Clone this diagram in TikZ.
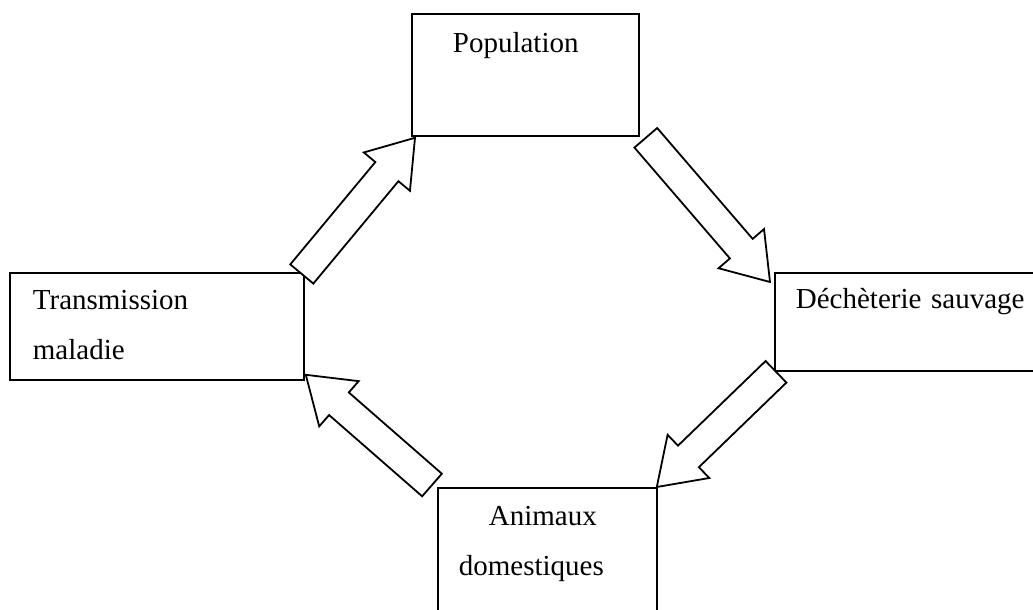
\documentclass[tikz,border=0pt]{standalone}
\usepackage{fontspec}
\setmainfont{Liberation Serif}
\usetikzlibrary{calc}

% hollow block arrow drawn from one anchor to another
\newcommand{\flecheBloc}[2]{%
  \path[fleche] let \p1=(#1), \p2=(#2),
    \n1={atan2(\y2-\y1,\x2-\x1)}, \n2={veclen(\x2-\x1,\y2-\y1)} in
    [shift={(\p1)}, rotate=\n1]
    (0,-15) -- (\n2-44,-15) -- (\n2-44,-30) -- (\n2,0)
    -- (\n2-44,30) -- (\n2-44,15) -- (0,15) -- cycle;
}

\begin{document}
\begin{tikzpicture}[
  x=1pt, y=-1pt,
  font=\fontsize{29}{50}\selectfont,
  bloc/.style={draw, line width=1.8pt, rectangle, anchor=north west, inner ysep=0pt, align=left},
  fleche/.style={draw, fill=white, line width=1.8pt, line join=miter}
]
% page frame (picture is cut at the right and bottom edges)
\useasboundingbox (0,0) rectangle (1033,610);
\clip (0,0) rectangle (1033,610);

% Column / row positions of the boxes (top left corners)
\def\xTrans{9}
\def\xPop{411}
\def\xAnim{437}
\def\xDech{774}

% Population (top)
\node[bloc, inner xsep=41pt, text width=145pt, text height=39pt, text depth=83pt] (pop) at (\xPop,13) {Population};

% Dechetterie sauvage (right)
\node[bloc, inner xsep=21pt, text width=244pt, text height=36pt, text depth=62pt] (dech) at (\xDech,272) {Déchèterie sauvage};

% Animaux domestiques (bottom)
\node[bloc, inner xsep=21pt, text width=177pt, text height=38pt, text depth=160pt] (anim) at (\xAnim,487) {\hspace*{30pt}Animaux\\domestiques};

% Transmission maladie (left)
\node[bloc, inner xsep=23pt, text width=248pt, text height=37pt, text depth=70pt] (trans) at (\xTrans,272) {Transmission\\maladie};

% the cycle
\flecheBloc{[shift={(-3,2)}]trans.north east}{[shift={(4,1)}]pop.south west}
\flecheBloc{[shift={(6,1)}]pop.south east}{[shift={(-4,10)}]dech.north west}
\flecheBloc{[shift={(2,0)}]dech.south west}{[shift={(-1,0)}]anim.north east}
\flecheBloc{[shift={(-5,-2)}]anim.north west}{[shift={(1,-6)}]trans.south east}

\end{tikzpicture}
\end{document}
